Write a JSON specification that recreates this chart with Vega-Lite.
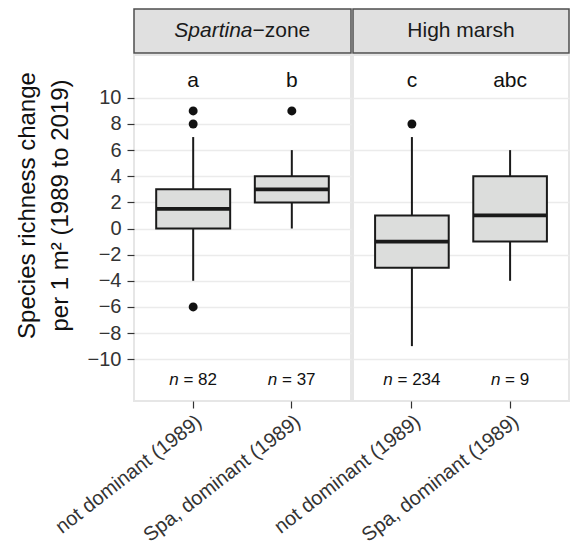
{
  "$schema": "https://vega.github.io/schema/vega-lite/v6.json",
  "padding": {"top": 8, "left": 14, "right": 1, "bottom": 0},
  "background": "white",
  "datasets": {
    "stats": [
      {"zone": "Spartina", "group": "not dominant (1989)", "lower": -4, "q1": 0, "median": 1.5, "q3": 3, "upper": 7, "letter": "a", "ntext": "= 82"},
      {"zone": "Spartina", "group": "Spa, dominant (1989)", "lower": 0, "q1": 2, "median": 3, "q3": 4, "upper": 6, "letter": "b", "ntext": "= 37"},
      {"zone": "High marsh", "group": "not dominant (1989)", "lower": -9, "q1": -3, "median": -1, "q3": 1, "upper": 7, "letter": "c", "ntext": "= 234"},
      {"zone": "High marsh", "group": "Spa, dominant (1989)", "lower": -4, "q1": -1, "median": 1, "q3": 4, "upper": 6, "letter": "abc", "ntext": "= 9"}
    ],
    "outliers": [
      {"zone": "Spartina", "group": "not dominant (1989)", "value": 9},
      {"zone": "Spartina", "group": "not dominant (1989)", "value": 8},
      {"zone": "Spartina", "group": "not dominant (1989)", "value": -6},
      {"zone": "Spartina", "group": "Spa, dominant (1989)", "value": 9},
      {"zone": "High marsh", "group": "not dominant (1989)", "value": 8}
    ],
    "strips": [
      {"zone": "Spartina", "italic": "Spartina", "rest": "−zone"},
      {"zone": "High marsh", "italic": "", "rest": "High marsh"}
    ]
  },
  "columns": 2,
  "align": "each",
  "bounds": "flush",
  "spacing": {"row": 2, "column": 2},
  "concat": [
    {
      "width": 217, "height": 44,
      "view": {"fill": "#e0e0e0", "stroke": "#4d4d4d", "strokeWidth": 1.5},
      "data": {"name": "strips"},
      "transform": [{"filter": "datum.zone == 'Spartina'"}],
      "layer": [
        {"mark": {"type": "text", "align": "right", "baseline": "middle", "dx": 10, "fontSize": 21, "fontStyle": "italic", "color": "#1a1a1a"},
         "encoding": {"text": {"field": "italic"}}},
        {"mark": {"type": "text", "align": "left", "baseline": "middle", "dx": 10, "fontSize": 21, "color": "#1a1a1a"},
         "encoding": {"text": {"field": "rest"}}}
      ]
    },
    {
      "width": 216, "height": 44,
      "view": {"fill": "#e0e0e0", "stroke": "#4d4d4d", "strokeWidth": 1.5},
      "data": {"name": "strips"},
      "transform": [{"filter": "datum.zone == 'High marsh'"}],
      "mark": {"type": "text", "align": "center", "baseline": "middle", "fontSize": 21, "color": "#1a1a1a"},
      "encoding": {"text": {"field": "rest"}}
    },
    {
      "width": 217, "height": 346,
      "data": {"name": "stats"},
      "transform": [{"filter": "datum.zone == 'Spartina'"}],
      "encoding": {
        "x": {"field": "group", "type": "nominal", "sort": ["not dominant (1989)", "Spa, dominant (1989)"],
              "scale": {"paddingInner": 0.25, "paddingOuter": 0.225},
              "axis": {"title": null, "labelAngle": -38, "labelAlign": "right", "labelBaseline": "top", "labelPadding": 3}}
      },
      "layer": [
        {"mark": {"type": "rule", "color": "#1a1a1a", "strokeWidth": 2},
         "encoding": {
           "y": {"field": "lower", "type": "quantitative", "scale": {"domain": [-13.2, 13.28], "nice": false, "zero": false},
                 "axis": {"title": ["Species richness change", "per 1 m² (1989 to 2019)"], "titleY": 150, "labelOverlap": false, "tickCount": 11, "values": [-10, -8, -6, -4, -2, 0, 2, 4, 6, 8, 10]}},
           "y2": {"field": "upper"}}},
        {"mark": {"type": "bar", "fill": "#dcdddc", "stroke": "#1a1a1a", "strokeWidth": 2},
         "encoding": {"y": {"field": "q1", "type": "quantitative"}, "y2": {"field": "q3"}}},
        {"mark": {"type": "tick", "color": "#1a1a1a", "thickness": 3.8, "opacity": 1},
         "encoding": {"y": {"field": "median", "type": "quantitative"}}},
        {"data": {"name": "outliers"}, "transform": [{"filter": "datum.zone == 'Spartina'"}],
         "mark": {"type": "point", "filled": true, "color": "#111111", "size": 80, "opacity": 1},
         "encoding": {"y": {"field": "value", "type": "quantitative"}}},
        {"mark": {"type": "text", "fontSize": 21, "baseline": "alphabetic", "color": "#111111"},
         "encoding": {"y": {"datum": 10.85, "type": "quantitative"}, "text": {"field": "letter"}}},
        {"mark": {"type": "text", "fontSize": 17, "fontStyle": "italic", "align": "right", "baseline": "alphabetic", "dx": -14.5, "color": "#111111"},
         "encoding": {"y": {"datum": -12, "type": "quantitative"}, "text": {"value": "n"}}},
        {"mark": {"type": "text", "fontSize": 17, "align": "left", "baseline": "alphabetic", "dx": -9.8, "color": "#111111"},
         "encoding": {"y": {"datum": -12, "type": "quantitative"}, "text": {"field": "ntext"}}}
      ]
    },
    {
      "width": 216, "height": 346,
      "data": {"name": "stats"},
      "transform": [{"filter": "datum.zone == 'High marsh'"}],
      "encoding": {
        "x": {"field": "group", "type": "nominal", "sort": ["not dominant (1989)", "Spa, dominant (1989)"],
              "scale": {"paddingInner": 0.25, "paddingOuter": 0.225},
              "axis": {"title": null, "labelAngle": -38, "labelAlign": "right", "labelBaseline": "top", "labelPadding": 3}}
      },
      "layer": [
        {"mark": {"type": "rule", "color": "#1a1a1a", "strokeWidth": 2},
         "encoding": {
           "y": {"field": "lower", "type": "quantitative", "scale": {"domain": [-13.2, 13.28], "nice": false, "zero": false},
                 "axis": {"title": null, "labels": false, "ticks": false, "values": [-10, -8, -6, -4, -2, 0, 2, 4, 6, 8, 10]}},
           "y2": {"field": "upper"}}},
        {"mark": {"type": "bar", "fill": "#dcdddc", "stroke": "#1a1a1a", "strokeWidth": 2},
         "encoding": {"y": {"field": "q1", "type": "quantitative"}, "y2": {"field": "q3"}}},
        {"mark": {"type": "tick", "color": "#1a1a1a", "thickness": 3.8, "opacity": 1},
         "encoding": {"y": {"field": "median", "type": "quantitative"}}},
        {"data": {"name": "outliers"}, "transform": [{"filter": "datum.zone == 'High marsh'"}],
         "mark": {"type": "point", "filled": true, "color": "#111111", "size": 80, "opacity": 1},
         "encoding": {"y": {"field": "value", "type": "quantitative"}}},
        {"mark": {"type": "text", "fontSize": 21, "baseline": "alphabetic", "color": "#111111"},
         "encoding": {"y": {"datum": 10.85, "type": "quantitative"}, "text": {"field": "letter"}}},
        {"transform": [{"filter": "datum.ntext == '= 234'"}],
         "mark": {"type": "text", "fontSize": 17, "fontStyle": "italic", "align": "right", "baseline": "alphabetic", "dx": -19.1, "color": "#111111"},
         "encoding": {"y": {"datum": -12, "type": "quantitative"}, "text": {"value": "n"}}},
        {"transform": [{"filter": "datum.ntext == '= 234'"}],
         "mark": {"type": "text", "fontSize": 17, "align": "left", "baseline": "alphabetic", "dx": -14.4, "color": "#111111"},
         "encoding": {"y": {"datum": -12, "type": "quantitative"}, "text": {"field": "ntext"}}},
        {"transform": [{"filter": "datum.ntext == '= 9'"}],
         "mark": {"type": "text", "fontSize": 17, "fontStyle": "italic", "align": "right", "baseline": "alphabetic", "dx": -9.7, "color": "#111111"},
         "encoding": {"y": {"datum": -12, "type": "quantitative"}, "text": {"value": "n"}}},
        {"transform": [{"filter": "datum.ntext == '= 9'"}],
         "mark": {"type": "text", "fontSize": 17, "align": "left", "baseline": "alphabetic", "dx": -5, "color": "#111111"},
         "encoding": {"y": {"datum": -12, "type": "quantitative"}, "text": {"field": "ntext"}}}
      ]
    }
  ],
  "config": {
    "font": "Liberation Sans",
    "view": {"stroke": "#e6e6e6", "strokeWidth": 2},
    "axis": {"domain": false, "grid": false, "tickColor": "#333333", "tickSize": 7, "tickWidth": 1.2,
             "labelColor": "#333333", "labelFontSize": 20, "labelFont": "Liberation Sans"},
    "axisY": {"grid": true, "gridColor": "#ebebeb", "gridWidth": 1.3, "labelPadding": 6, "labelOverlap": false,
              "titleFontSize": 24, "titleFontWeight": "normal", "titleColor": "#111111", "titleLineHeight": 33, "titlePadding": 15, "titleFont": "Liberation Sans"},
    "axisX": {"labelFontSize": 20, "labelLimit": 300}
  }
}
